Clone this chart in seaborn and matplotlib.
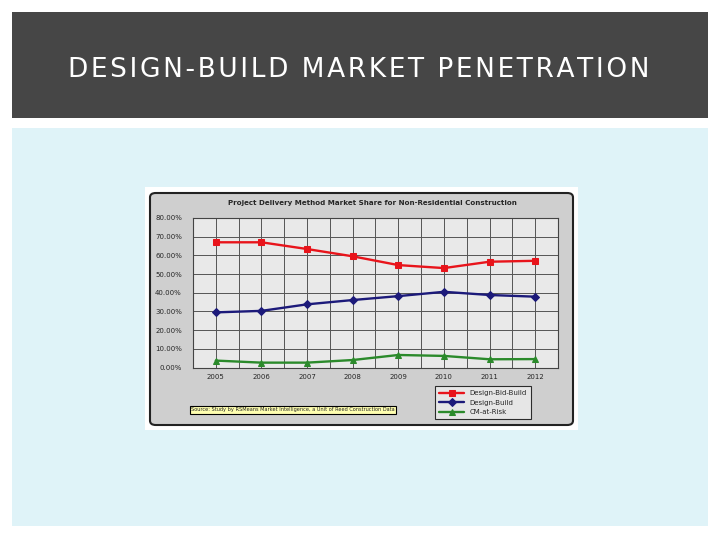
import pandas as pd
import seaborn as sns
import matplotlib.pyplot as plt
from matplotlib.patches import Rectangle, FancyBboxPatch
from matplotlib.ticker import PercentFormatter

years = ["2005", "2006", "2007", "2008", "2009", "2010", "2011", "2012"]
design_bid_build = [67.0, 67.0, 63.4, 59.5, 54.8, 53.2, 56.6, 57.1]
design_build = [29.5, 30.3, 33.8, 36.1, 38.2, 40.5, 38.8, 37.9]
cm_at_risk = [3.7, 2.6, 2.6, 4.0, 6.7, 6.2, 4.4, 4.5]
series_names = ["Design-Bid-Build", "Design-Build", "CM-at-Risk"]

slide_title = "DESIGN-BUILD MARKET PENETRATION"
chart_title = "Project Delivery Method Market Share for Non-Residential Construction"
source_note = "Source: Study by RSMeans Market Intelligence, a Unit of Reed Construction Data"

W, H = 720, 540


def fx(x):
    return x / W


def fy(y):
    return 1 - y / H


df = pd.DataFrame({
    "year": years * 3,
    "share": design_bid_build + design_build + cm_at_risk,
    "method": [n for n in series_names for _ in years],
})

sns.set_theme(style="white")
plt.rcParams["font.family"] = ["DejaVu Sans"]

fig = plt.figure(figsize=(7.2, 5.4), dpi=100)
fig.patch.set_facecolor("white")

# slide header band and light blue content panel
fig.patches.append(Rectangle((fx(12), fy(118)), fx(696), 106 / H, transform=fig.transFigure,
                             facecolor="#464646", edgecolor="none", zorder=0))
# letter-spaced title (hair spaces between letters)
spaced_title = "\u200a".join(slide_title).replace("\u200a \u200a", "\u2002")
fig.text(fx(359), fy(70), spaced_title, color="white", fontsize=19, ha="center", va="center")
fig.patches.append(Rectangle((fx(12), fy(526)), fx(696), 398 / H, transform=fig.transFigure,
                             facecolor="#dff3f8", edgecolor="none", zorder=0))

# embedded chart picture: white frame + rounded grey chart area
fig.patches.append(Rectangle((fx(145), fy(430)), fx(433), 243 / H, transform=fig.transFigure,
                             facecolor="white", edgecolor="none", zorder=0))
fig.patches.append(FancyBboxPatch((fx(150), fy(425)), fx(423), 232 / H, transform=fig.transFigure,
                                  boxstyle="round,pad=0,rounding_size=0.008",
                                  facecolor="#cfcfcf", edgecolor="#222222", linewidth=1.5, zorder=0))
fig.text(fx(372), fy(203), chart_title, fontsize=5.1, fontweight="bold", ha="center", va="center")

ax = fig.add_axes([fx(193), fy(367.5), fx(558 - 193), (367.5 - 218) / H])
ax.set_zorder(2)
ax.set_facecolor("#e9e9e9")

palette = {"Design-Bid-Build": "#e8141b", "Design-Build": "#1c1a7a", "CM-at-Risk": "#2b8a2b"}
markers = {"Design-Bid-Build": "s", "Design-Build": "D", "CM-at-Risk": "^"}
sns.lineplot(data=df, x="year", y="share", hue="method", style="method",
             palette=palette, markers=markers, dashes=False, linewidth=1.7,
             markersize=4, markeredgecolor=None, ax=ax, zorder=3)

ax.set_ylim(0, 80)
ax.set_xlim(-0.5, len(years) - 0.5)
ax.set_yticks(range(0, 81, 10))
ax.yaxis.set_major_formatter(PercentFormatter(decimals=2))
ax.set_xticks([i * 0.5 - 0.5 for i in range(2 * len(years) + 1)], minor=True)
ax.grid(True, which="both", axis="x", color="#555555", linewidth=0.7)
ax.grid(True, which="major", axis="y", color="#555555", linewidth=0.7)
ax.tick_params(axis="both", which="both", length=0, labelsize=5, pad=5)
ax.tick_params(axis="y", pad=8)
for s in ax.spines.values():
    s.set_color("#444444")
    s.set_linewidth(0.8)
ax.set_xlabel("")
ax.set_ylabel("")

leg = ax.legend(loc="upper left", bbox_to_anchor=((435 - 193) / 365, -0.125),
                fontsize=5, frameon=True, fancybox=False, edgecolor="black",
                handlelength=3.6, borderpad=0.6, labelspacing=0.5, borderaxespad=0)
leg.get_frame().set_facecolor("#ededed")
leg.get_frame().set_linewidth(0.8)

fig.text(fx(191), fy(410), source_note, fontsize=3.6, ha="left", va="center",
         bbox=dict(boxstyle="square,pad=0.3", facecolor="#ffffb0", edgecolor="black", linewidth=0.8))

fig.savefig("out.png", dpi=100)
